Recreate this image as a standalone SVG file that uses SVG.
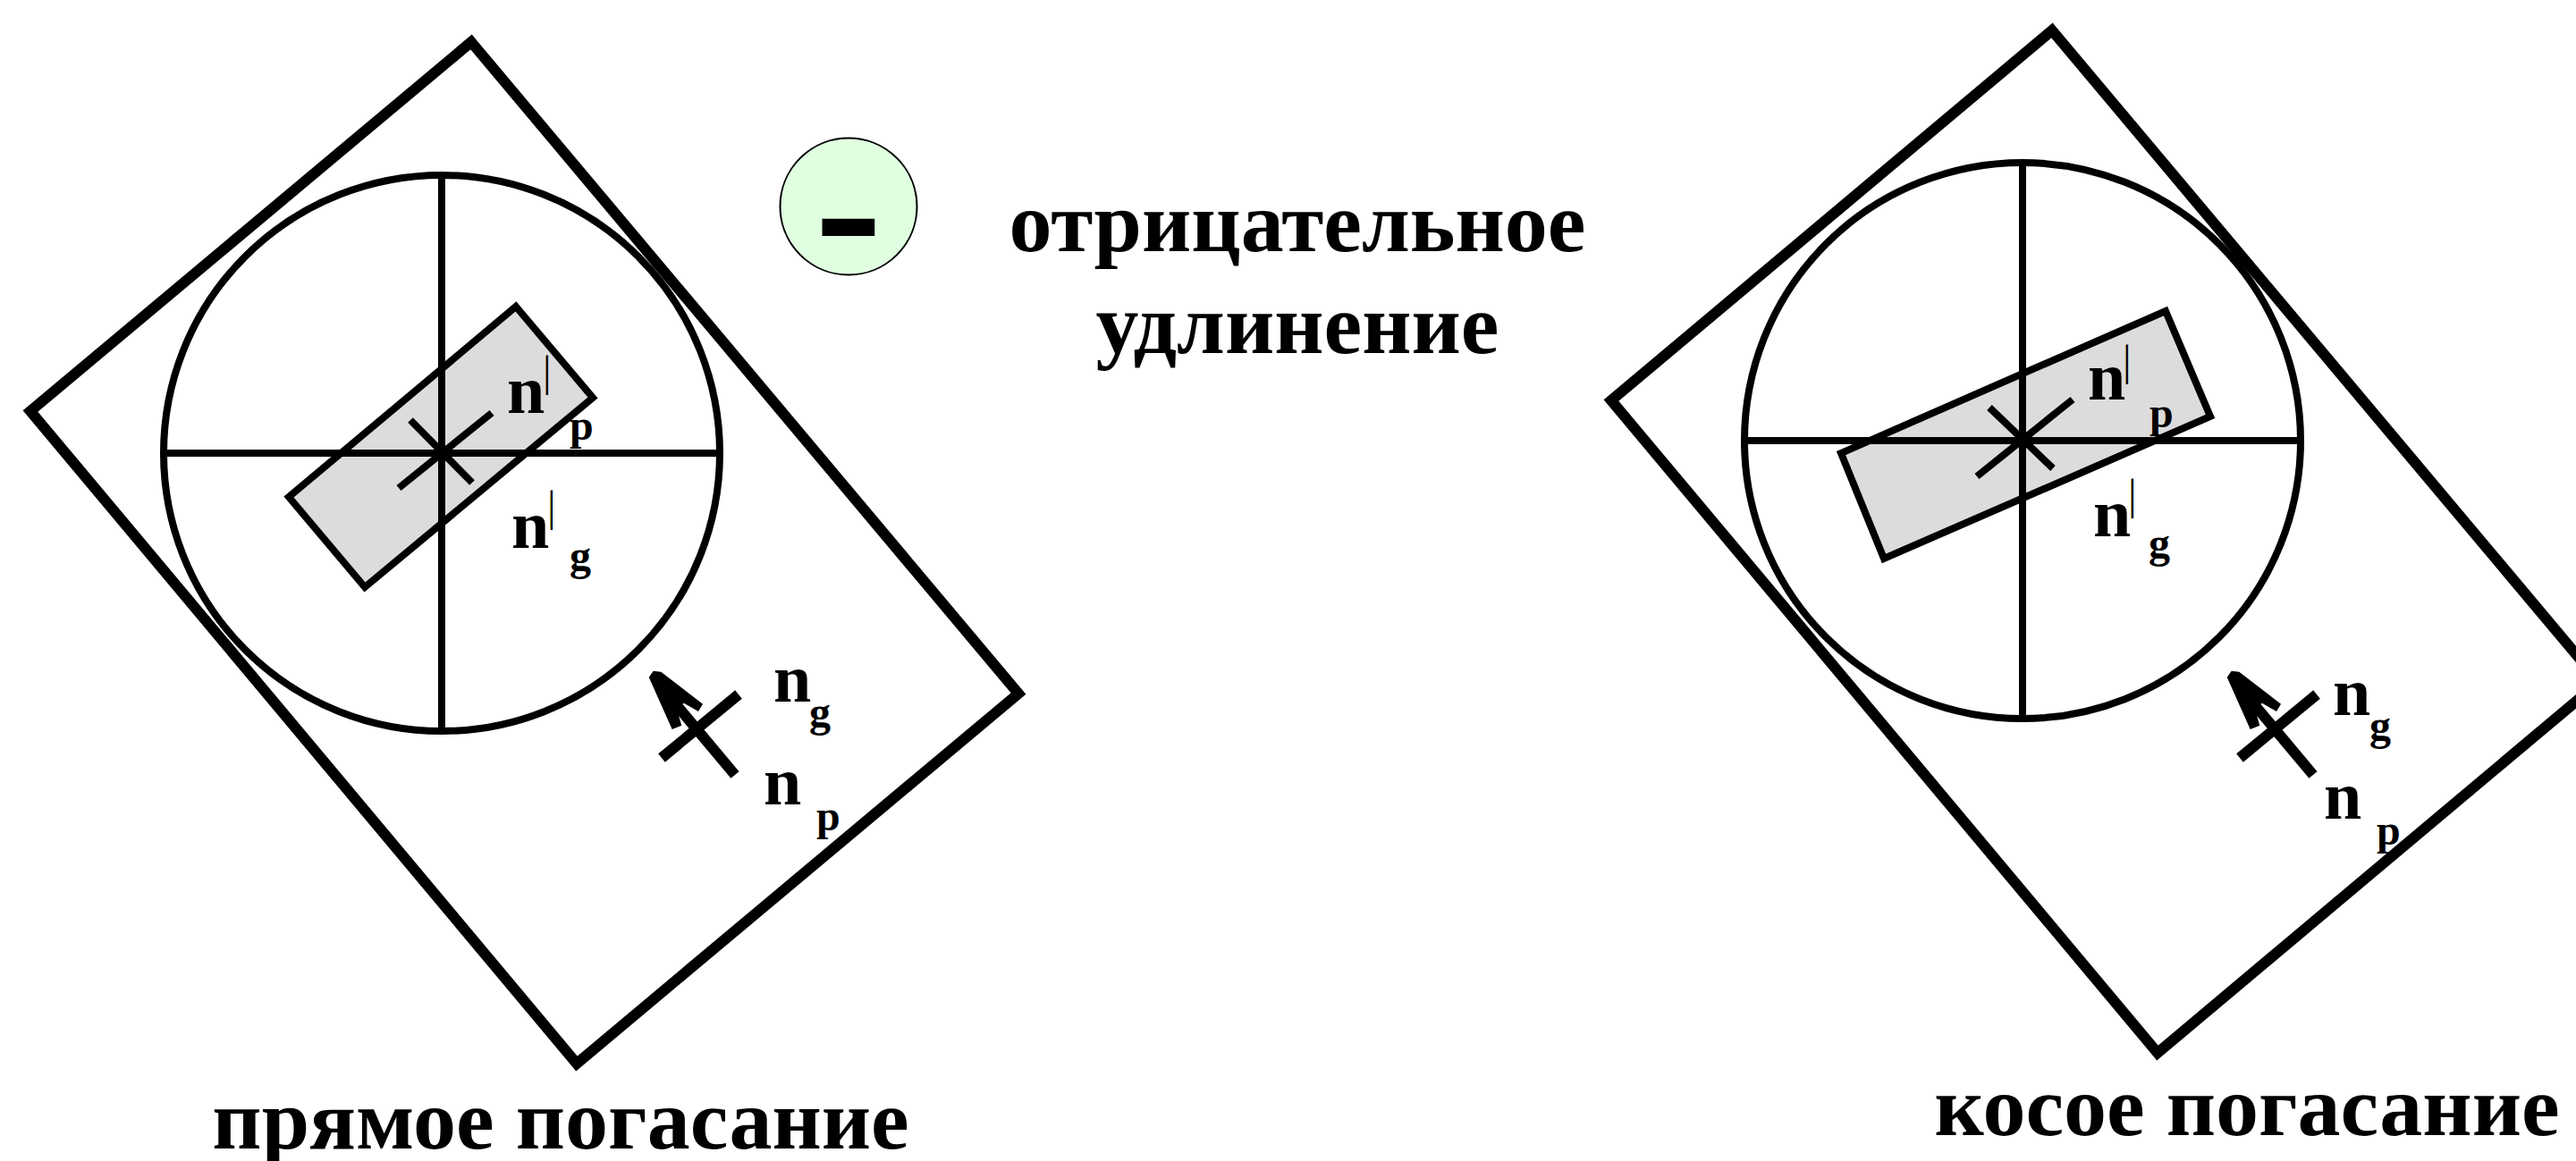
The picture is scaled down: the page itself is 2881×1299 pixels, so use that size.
<svg xmlns="http://www.w3.org/2000/svg" width="2881" height="1299" viewBox="0 0 2881 1299">
<style>
text{font-family:"Liberation Serif","Times New Roman",serif;font-weight:bold;fill:#000}
.big{font-size:96px;text-anchor:middle}
.n{font-size:76px}
.s{font-size:48px}
.t{font-size:48px;font-weight:normal}
.ln{fill:none;stroke:#000;stroke-linejoin:miter}
.frame{stroke-width:12}
.circ{stroke-width:8}
.ax{stroke-width:8}
.x{stroke-width:8}
.c{stroke-width:12}
.crystal{fill:#dcdcdc;stroke:#000;stroke-width:8}
</style>
<rect width="2881" height="1299" fill="#fff"/>
<g id="left-frame"><polygon class="ln frame" points="527,47 1139,776 645,1190 34,460"/></g>
<g id="left-circle"><circle class="ln circ" cx="494" cy="507" r="311"/></g>
<g id="left-crystal"><polygon class="crystal" points="577,343 663,445 408,657 323,556"/></g>
<g id="left-axes">
<line class="ln ax" x1="494" y1="196" x2="494" y2="818"/>
<line class="ln ax" x1="183" y1="507" x2="805" y2="507"/>
<line class="ln x" x1="446" y1="546" x2="550" y2="462"/>
<line class="ln x" x1="459" y1="470" x2="528" y2="540"/>
</g>
<g id="left-arrow">
<line class="ln c" x1="822" y1="867" x2="745" y2="775"/>
<line class="ln c" x1="740" y1="848" x2="826" y2="777"/>
<polygon points="725.7,757.7 730.7,750.7 739.3,751.7 786,787.7 781,796 765,786.7 756.7,792.7 762.3,811.7 751.7,816"/>
</g>
<g id="left-labels">
<text class="n" x="567" y="462">n</text><text class="t" x="607" y="432">|</text><text class="s" x="637" y="492">p</text>
<text class="n" x="572" y="613">n</text><text class="t" x="612" y="583">|</text><text class="s" x="637" y="638">g</text>
<text class="n" x="865" y="785">n</text><text class="s" x="905" y="813">g</text>
<text class="n" x="854" y="900">n</text><text class="s" x="913" y="929">p</text>
<text class="big" x="627" y="1285">прямое погасание</text>
</g>
<g id="legend">
<circle cx="949" cy="231" r="76.5" fill="#e0ffe0" stroke="#000" stroke-width="2"/>
<text x="949" y="308" style="font-size:226px;text-anchor:middle">-</text>
<text class="big" x="1451" y="281">отрицательное</text>
<text class="big" x="1451" y="395">удлинение</text>
</g>
<g id="right-frame"><polygon class="ln frame" points="2295,34 2907,763 2413,1178 1802,448"/></g>
<g id="right-circle"><circle class="ln circ" cx="2262" cy="493" r="311"/></g>
<g id="right-crystal"><polygon class="crystal" points="2422,348 2472,466 2107,625 2059,507"/></g>
<g id="right-axes">
<line class="ln ax" x1="2262" y1="182" x2="2262" y2="804"/>
<line class="ln ax" x1="1951" y1="493" x2="2573" y2="493"/>
<line class="ln x" x1="2211" y1="533" x2="2318" y2="447"/>
<line class="ln x" x1="2225" y1="456" x2="2296" y2="524"/>
</g>
<g id="right-arrow" transform="translate(1765,0)">
<line class="ln c" x1="822" y1="867" x2="745" y2="775"/>
<line class="ln c" x1="740" y1="848" x2="826" y2="777"/>
<polygon points="725.7,757.7 730.7,750.7 739.3,751.7 786,787.7 781,796 765,786.7 756.7,792.7 762.3,811.7 751.7,816"/>
</g>
<g id="right-labels">
<text class="n" x="2335" y="447">n</text><text class="t" x="2374" y="420">|</text><text class="s" x="2404" y="478">p</text>
<text class="n" x="2341" y="600">n</text><text class="t" x="2380" y="570">|</text><text class="s" x="2403" y="624">g</text>
<text class="n" x="2609" y="800">n</text><text class="s" x="2650" y="828">g</text>
<text class="n" x="2599" y="916">n</text><text class="s" x="2658" y="945">p</text>
<text class="big" x="2513" y="1270">косое погасание</text>
</g>
</svg>
